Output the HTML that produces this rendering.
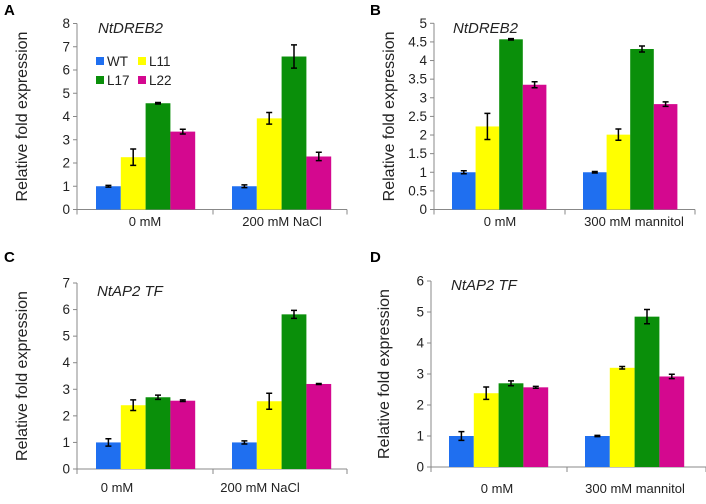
<!DOCTYPE html>
<html><head><meta charset="utf-8"><style>
body{margin:0;background:#fff;width:706px;height:499px;overflow:hidden}
svg{font-family:"Liberation Sans",sans-serif}
</style></head><body>
<svg id="fig" width="706" height="499" viewBox="0 0 706 499"></svg>
<script>
const categoriesA = ["0 mM","200 mM NaCl"];
const categoriesB = ["0 mM","300 mM mannitol"];
const seriesNames = ["WT","L11","L17","L22"];
const colors = ["#1f6ff0","#ffff00","#0a8f0a","#d4088f"];
const valsA = [[1,2.25,4.57,3.35],[1,3.92,6.58,2.28]];
const errA  = [[0.04,0.35,0.03,0.1],[0.06,0.25,0.5,0.18]];
const valsB = [[1,2.23,4.57,3.35],[1,2.01,4.31,2.83]];
const errB  = [[0.04,0.35,0.02,0.08],[0.02,0.15,0.08,0.06]];
const valsC = [[1,2.4,2.7,2.57],[1,2.55,5.82,3.2]];
const errC  = [[0.14,0.2,0.08,0.03],[0.06,0.3,0.15,0.02]];
const valsD = [[1,2.38,2.7,2.57],[1,3.2,4.85,2.92]];
const errD  = [[0.14,0.2,0.08,0.03],[0.02,0.04,0.23,0.07]];
const ticksA = ["0","1","2","3","4","5","6","7","8"];
const ticksB = ["0","0.5","1","1.5","2","2.5","3","3.5","4","4.5","5"];
const ticksC = ["0","1","2","3","4","5","6","7"];
const ticksD = ["0","1","2","3","4","5","6"];

const svg=document.getElementById('fig');
const NS="http://www.w3.org/2000/svg";
function mk(tag,attrs,parent,text){const e=document.createElementNS(NS,tag);for(const k in attrs)e.setAttribute(k,attrs[k]);if(text!==undefined)e.textContent=text;(parent||svg).appendChild(e);return e;}

function panel(p){
  const g=mk('g',{});
  
  
  const max=parseFloat(p.ticks[p.ticks.length-1]);
  const y=v=>p.y0-(v/max)*(p.y0-p.yTop);
  const lbl=mk('text',{x:p.letterX,y:p.letterY,'font-size':15,'font-weight':'bold',fill:'#000'},g,p.id);
  
  
  const ya=mk('line',{x1:p.ax,y1:p.yTop,x2:p.ax,y2:p.y0,stroke:'#888','stroke-width':1},g);
  
  
  const xa=mk('line',{x1:p.ax,y1:p.y0,x2:p.right,y2:p.y0,stroke:'#888','stroke-width':1},g);
  
  
  p.ticks.forEach(t=>{
    const v=parseFloat(t);
    mk('line',{x1:p.ax-4,y1:y(v),x2:p.ax,y2:y(v),stroke:'#888'},g);
    const tl=mk('text',{x:p.ax-7,y:y(v)+4.5,'font-size':13.5,'text-anchor':'end',fill:'#222'},g,t);
    
    
  });
  [p.ax,p.sep,p.right].forEach(x=>mk('line',{x1:x,y1:p.y0,x2:x,y2:p.y0+5,stroke:'#888'},g));
  const at=mk('text',{transform:`translate(${p.titleX},${(p.yTop+p.y0)/2}) rotate(-90)`,'font-size':16,'text-anchor':'middle',fill:'#222'},g,'Relative fold expression');
  
  
  const gt=mk('text',{x:p.geneX,y:p.geneY,'font-size':15,'font-style':'italic',fill:'#222'},g,p.gene);
  
  
  p.cats.forEach((c,ci)=>{
    const cl=mk('text',{x:p.catX[ci],y:p.labelY,'font-size':13,'text-anchor':'middle',fill:'#222'},g,c);
    
    
    p.vals[ci].forEach((v,si)=>{
      const x=p.groupX[ci]+si*p.bw;
      const r=mk('rect',{x:x,y:y(v),width:p.bw,height:p.y0-y(v),fill:colors[si]},g);
      
      
      const e=p.err[ci][si],cx=x+p.bw/2;
      const eb=mk('path',{d:`M${cx},${y(v+e)}V${y(v-e)}M${cx-3},${y(v+e)}H${cx+3}M${cx-3},${y(v-e)}H${cx+3}`,stroke:'#000','stroke-width':1.5,fill:'none'},g);
      
      
    });
  });
}
panel({id:'A',letterX:4,letterY:15,ax:77,right:347,sep:213,y0:209.5,yTop:23.5,ticks:ticksA,titleX:27,gene:'NtDREB2',geneX:98,geneY:33,cats:categoriesA,catX:[145,282],labelY:226,vals:valsA,err:errA,groupX:[96,232],bw:24.8});
panel({id:'B',letterX:370,letterY:15,ax:434,right:695,sep:565,y0:209.5,yTop:23.3,ticks:ticksB,titleX:394,gene:'NtDREB2',geneX:453,geneY:33,cats:categoriesB,catX:[500,634],labelY:226,vals:valsB,err:errB,groupX:[452,583],bw:23.6});
panel({id:'C',letterX:4,letterY:262,ax:77,right:347,sep:213,y0:469,yTop:283,ticks:ticksC,titleX:27,gene:'NtAP2 TF',geneX:97,geneY:296,cats:categoriesA,catX:[117,260],labelY:492,vals:valsC,err:errC,groupX:[96,232],bw:24.8});
panel({id:'D',letterX:370,letterY:262,ax:431,right:706,sep:567,y0:467,yTop:281,ticks:ticksD,titleX:389,gene:'NtAP2 TF',geneX:451,geneY:290,cats:categoriesB,catX:[497,635],labelY:493,vals:valsD,err:errD,groupX:[449,585],bw:24.8});
const leg=mk('g',{});


const legPos=[[96,61],[138,61],[96,80],[138,80]];
seriesNames.forEach((n,i)=>{
  const it=mk('g',{},leg);
  
  
  mk('rect',{x:legPos[i][0],y:legPos[i][1]-4,width:8,height:8,fill:colors[i]},it);
  mk('text',{x:legPos[i][0]+11,y:legPos[i][1]+5,'font-size':13.5,fill:'#222'},it,n);
});
</script>
</body></html>
